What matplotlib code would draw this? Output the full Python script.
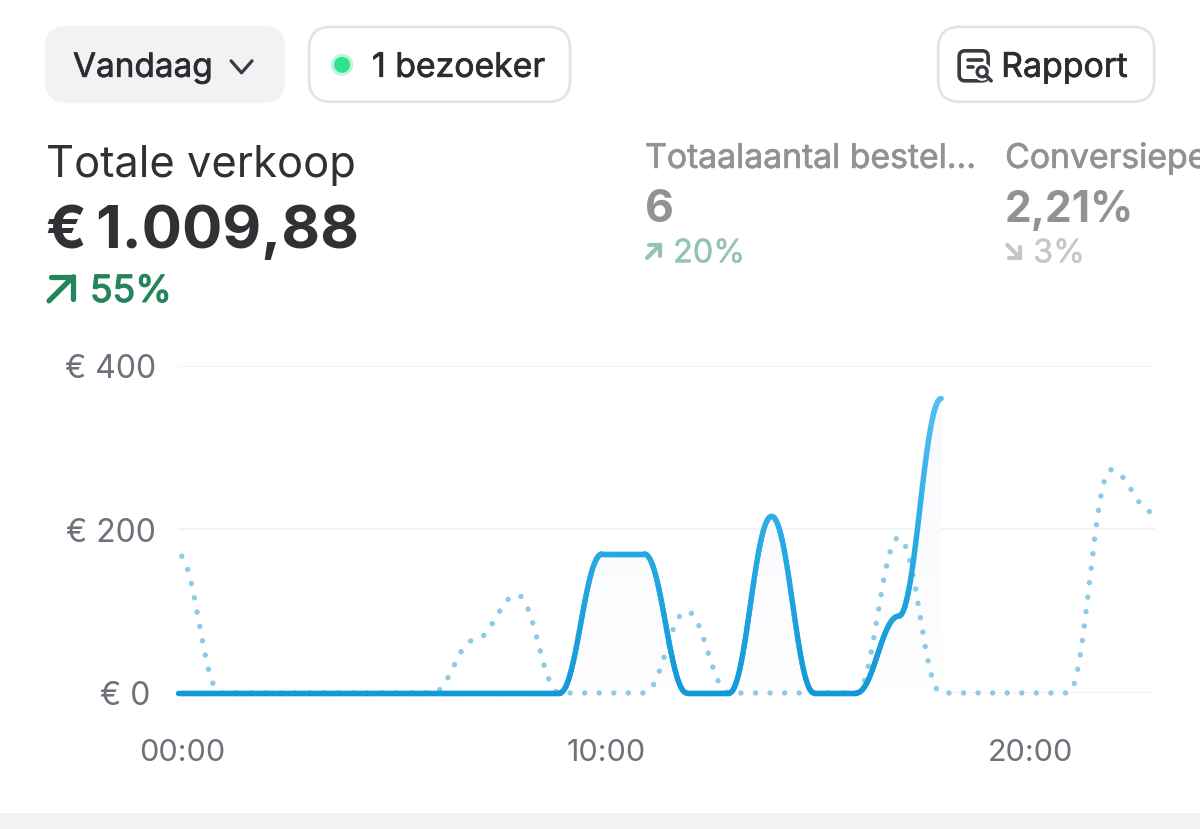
import numpy as np
import matplotlib
matplotlib.use("Agg")
import matplotlib.pyplot as plt
import matplotlib.patheffects as pe
from matplotlib.collections import LineCollection
from matplotlib.colors import LinearSegmentedColormap
from matplotlib.patches import FancyBboxPatch, PathPatch, Circle, Rectangle
from matplotlib.path import Path
from matplotlib.transforms import ScaledTranslation

# ---- data ----
hours_today = [0, 1, 2, 3, 4, 5, 6, 7, 8, 9, 10, 11, 12, 13, 14, 15, 16, 17, 18]
sales_today = [0, 0, 0, 0, 0, 0, 0, 0, 0, 0, 170, 170, 0, 0, 216, 0, 0, 94, 360]
hours_prev = [0, 1, 2, 3, 4, 5, 6, 7, 8, 9, 10, 11, 12, 13, 14, 15, 16, 17, 18, 19, 20, 21, 22, 23]
sales_prev = [170, 0, 0, 0, 0, 0, 0, 65, 120, 0, 0, 0, 100, 0, 0, 0, 0, 190, 0, 0, 0, 0, 273, 221]
y_ticks = [0, 200, 400]
y_labels = ["€ 0", "€ 200", "€ 400"]
x_ticks = [0, 10, 20]
x_labels = ["00:00", "10:00", "20:00"]

W, H = 1200, 829
FONT = "Inter"
plt.rcParams["font.family"] = [FONT, "DejaVu Sans"]


def smooth(xs, ys, c=0.4, n=40):
    """Bezier smoothing with flat tangents between successive readings."""
    out_x, out_y = [], []
    t = np.linspace(0, 1, n)
    for x0, x1, y0, y1 in zip(xs[:-1], xs[1:], ys[:-1], ys[1:]):
        d = x1 - x0
        px = [x0, x0 + c * d, x1 - c * d, x1]
        py = [y0, y0, y1, y1]
        b = [(1 - t) ** 3, 3 * t * (1 - t) ** 2, 3 * t ** 2 * (1 - t), t ** 3]
        out_x.append(sum(a * p for a, p in zip(b, px)))
        out_y.append(sum(a * p for a, p in zip(b, py)))
    return np.concatenate(out_x), np.concatenate(out_y)


fig = plt.figure(figsize=((W + 0.2) / 100, (H + 0.2) / 100), dpi=100, facecolor="white")


def px_axes(l, t, r, b):
    return fig.add_axes([l / W, 1 - b / H, (r - l) / W, (b - t) / H])


# ---- interface layer (pixel coordinates) ----
ui = fig.add_axes([0, 0, 1, 1], zorder=0)
ui.set_xlim(0, W)
ui.set_ylim(H, 0)
ui.axis("off")
ui.add_patch(Rectangle((0, 813), W, 16, fc="#F2F2F3", ec="none"))


def label(x, y, s, size, color, stroke=0.0, weight="normal"):
    t = ui.text(x, y, s, fontsize=size, color=color, va="center", ha="left", fontweight=weight)
    if stroke:
        t.set_path_effects([pe.withStroke(linewidth=stroke, foreground=color)])
    return t


def button(l, t, r, b, fc, ec):
    rad = 22
    ui.add_patch(FancyBboxPatch((l + rad, t + rad), r - l - 2 * rad, b - t - 2 * rad,
                                boxstyle=f"round,pad={rad},rounding_size={rad}",
                                fc=fc, ec=ec, lw=1.9 if ec != "none" else 0))


button(45, 26, 285, 103, "#F1F2F4", "none")
button(309, 27, 570, 102, "white", "#E3E3E3")
button(938, 27, 1154, 102, "white", "#E3E3E3")

DARK = "#2B2C30"
label(73, 68, "Vandaag", 24.0, DARK, stroke=0.5)
ui.plot([231, 241.5, 252], [61, 73, 61], color="#3A3B40", lw=2.3, solid_capstyle="round", solid_joinstyle="round")
ui.add_patch(Circle((342, 65), 11, fc="#BDF5D8", ec="none"))
ui.add_patch(Circle((342, 65), 8, fc="#2FE38C", ec="none"))
label(372, 68, "1 bezoeker", 24.3, DARK, stroke=0.5)
label(1001, 68, "Rapport", 24.4, DARK, stroke=0.5)

# report icon
ink = "#3A3B40"
ui.add_patch(FancyBboxPatch((963, 55), 21, 22, boxstyle="round,pad=4,rounding_size=6",
                            fc="none", ec=ink, lw=2.6))
ui.plot([968, 982], [60, 60], color=ink, lw=2.6, solid_capstyle="round")
ui.plot([968, 973], [67, 67], color=ink, lw=2.6, solid_capstyle="round")
ui.add_patch(Circle((982, 72), 9, fc="white", ec="none"))
ui.add_patch(Circle((982, 72), 5, fc="none", ec=ink, lw=2.4))
ui.plot([986, 991], [76, 81], color=ink, lw=2.6, solid_capstyle="round")

label(46, 165, "Totale verkoop", 31.3, "#303134")
label(46, 232, "€\u20091.009,88", 43, "#303134", weight="bold")
label(90, 292, "55%", 26.8, "#24855C", stroke=0.9)


def arrow(x0, y0, x1, y1, size, color, lw):
    """Small corner arrow from (x0, y0) to (x1, y1)."""
    sx = np.sign(x1 - x0)
    sy = np.sign(y1 - y0)
    ui.plot([x0, x1], [y0, y1], color=color, lw=lw, solid_capstyle="round")
    ui.plot([x1 - sx * size, x1, x1], [y1, y1, y1 - sy * size], color=color, lw=lw,
            solid_capstyle="round", solid_joinstyle="miter")


arrow(49, 301, 73, 277, 22, "#24855C", 3.8)
arrow(647, 258, 660, 245, 11, "#93C5AE", 3.0)
arrow(1007, 245, 1020, 258, 11, "#C6C6C6", 3.0)

GREY = "#929292"
label(645, 159, "Totaalaantal bestel…", 24.3, GREY, stroke=0.5)
label(1005, 159, "Conversiepe", 24.3, GREY, stroke=0.5)
label(645, 210, "6", 32, GREY, weight="bold")
label(1005, 210, "2,21%", 30.6, GREY, weight="bold")
label(673, 254, "20%", 23.3, "#93C5AE", stroke=0.3)
label(1033, 254, "3%", 23.3, "#C6C6C6", stroke=0.3)

# ---- chart ----
ax = px_axes(178, 366, 1155, 693)
ax.set_zorder(1)
ax.patch.set_alpha(0)
xmax = (1155 - 178) / 42.39
ax.set_xlim(0, xmax)
ax.set_ylim(0, 400)
for s in ax.spines.values():
    s.set_visible(False)
ax.set_yticks(y_ticks, y_labels)
ax.set_xticks(x_ticks, x_labels)
ax.tick_params(axis="both", length=0, labelcolor="#6F7079")
ax.tick_params(axis="y", labelsize=23, pad=16)
ax.tick_params(axis="x", labelsize=22, pad=33)
shift = ScaledTranslation(4 / 100, 0, fig.dpi_scale_trans)
for lab in ax.get_xticklabels():
    lab.set_transform(lab.get_transform() + shift)
zero_lab = ax.get_yticklabels()[0]
zero_lab.set_transform(zero_lab.get_transform() + ScaledTranslation(-5 / 100, 0, fig.dpi_scale_trans))
ax.grid(axis="y", color="#F0F0F1", lw=1.1)
ax.set_axisbelow(True)

tx, ty = smooth(hours_today, sales_today)
dx, dy = smooth(hours_prev, sales_prev)

# area under today's line
poly = np.column_stack([np.r_[tx, tx[-1], tx[0]], np.r_[ty, 0, 0]])
clip = PathPatch(Path(poly), transform=ax.transData, fc="none", ec="none")
ax.add_patch(clip)
fade = LinearSegmentedColormap.from_list("fade", ["#F7F9FC", "#FEFEFF"])
im = ax.imshow(np.linspace(1, 0, 64).reshape(-1, 1), extent=[0, 18, 0, 360], origin="lower",
               aspect="auto", cmap=fade, zorder=1.5)
im.set_clip_path(clip)
ax.set_xlim(0, xmax)
ax.set_ylim(0, 400)

# previous period
ax.plot(dx, dy, color="#8CCBE6", lw=3.9, linestyle=(1.87, (0.01, 2.68)),
        dash_capstyle="round", zorder=3, clip_on=False)

# today: colour runs with height
grad = LinearSegmentedColormap.from_list("line", ["#129AD8", "#27A9E3", "#52BFF4"])
pts = np.column_stack([tx, ty]).reshape(-1, 1, 2)
segs = np.concatenate([pts[:-1], pts[1:]], axis=1)
lc = LineCollection(segs, cmap=grad, norm=plt.Normalize(0, 360), linewidths=3.9,
                    capstyle="round", zorder=4, clip_on=False)
lc.set_array((ty[:-1] + ty[1:]) / 2)
ax.add_collection(lc)

fig.savefig("out.png", dpi=100, facecolor="white")
